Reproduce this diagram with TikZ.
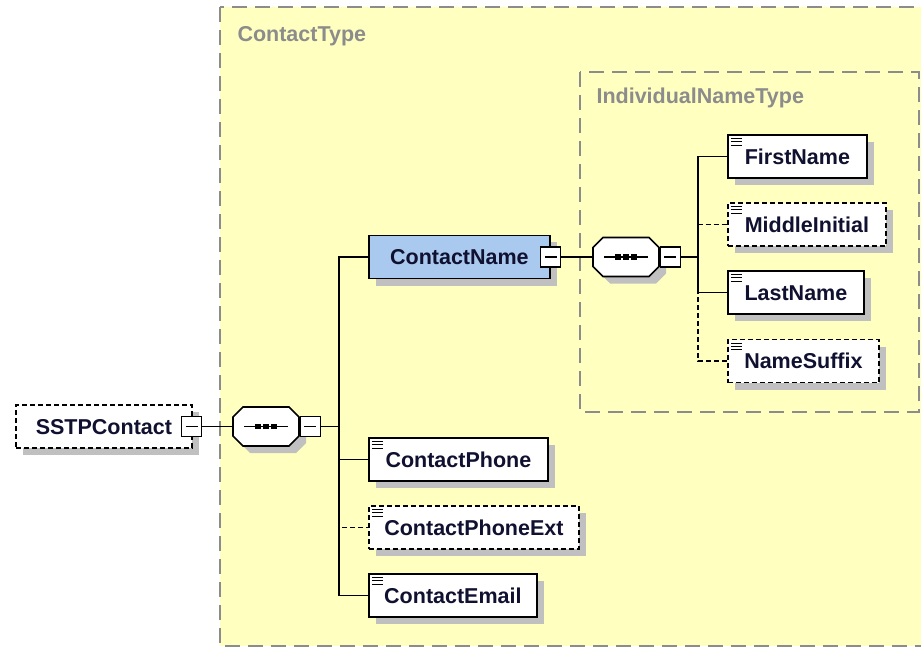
\documentclass[tikz,border=0pt]{standalone}
\usepackage{fontspec}
\setmainfont{Liberation Sans}
\usetikzlibrary{positioning,shapes.misc,shadows}
\definecolor{typeyellow}{RGB}{255,255,192}
\definecolor{typegray}{RGB}{140,140,140}
\definecolor{shadowgray}{RGB}{192,192,192}
\definecolor{namefill}{RGB}{169,201,238}
\definecolor{elemtext}{RGB}{16,16,48}
\tikzset{
	req/.style={solid},
	opt/.style={dash pattern=on 5pt off 3pt},
	link/.style={line width=1.6pt},
	typebox/.style={draw=typegray, line width=2pt, dash pattern=on 15pt off 8pt, fill=typeyellow},
	typelabel/.style={text=typegray, anchor=base west, font=\bfseries\fontsize{21.5}{24}\selectfont},
	elem/.style={draw, line width=1.8pt, fill=white, anchor=west, minimum height=43pt, inner xsep=0pt,
		text=elemtext, font=\bfseries\fontsize{21.5}{24}\selectfont, text height=15.5pt, text depth=0pt,
		drop shadow={shadow xshift=7pt, shadow yshift=-7pt, opacity=1, fill=shadowgray}},
	leaf/.style={elem, path picture={
		\foreach \k in {0,1,2}{
			\draw[solid, line width=1pt] ([shift={(3pt,-\k*3.3pt-3.5pt)}]path picture bounding box.north west) -- ++(11pt,0pt);
		}}},
	minus/.style={draw, solid, line width=1.3pt, fill=white, minimum size=20pt, inner sep=0pt, path picture={
		\draw[line width=1.3pt] ([xshift=4pt]path picture bounding box.west) -- ([xshift=-4pt]path picture bounding box.east);}},
	seq/.style={shape=chamfered rectangle, chamfered rectangle xsep=5pt, chamfered rectangle ysep=5pt,
		draw, line width=1.6pt, fill=white, inner xsep=28pt, inner ysep=14.5pt,
		drop shadow={shadow xshift=7pt, shadow yshift=-7pt, opacity=1, fill=shadowgray},
		path picture={
		\draw[line width=1.6pt] ([xshift=-22pt]path picture bounding box.center) -- ([xshift=22pt]path picture bounding box.center);
		\foreach \dx in {-8,0,8}{
			\fill[black] ([xshift=\dx*1pt]path picture bounding box.center) +(-2.6pt,-2.6pt) rectangle +(2.6pt,2.6pt);
		}}},
}
\begin{document}
\begin{tikzpicture}[x=1pt,y=-1pt]
	\useasboundingbox (0,0) rectangle (921,647);
	% type boxes
	\draw[typebox] (220,7) rectangle (940,646);
	\node[typelabel] (ctlabel) at (234,41.5) {ContactType};
	\draw[typebox] (580,72) rectangle (919,412);
	\node[typelabel] (inlabel) at (593,104) {IndividualNameType};
	% root element and its sequence
	\node[elem, opt, minimum width=176pt] (sstp) at (15,426.5) {SSTPContact};
	\node[minus] (sstpm) at ([xshift=-1pt]sstp.east) {};
	\node[seq] (seq1) at (266,426.5) {};
	\node[minus, right=0pt of seq1] (seq1m) {};
	\coordinate (bus1) at (339,426.5);
	\draw[link] (sstpm) -- (seq1);
	\draw[link] (seq1m) -- (bus1);
	% ContactName and its sequence
	\node[elem, fill=namefill, minimum width=181pt] (cname) at (368,257) {ContactName};
	\node[minus] (cnamem) at (cname.east) {};
	\node[seq] (seq2) at (626,257) {};
	\node[minus, right=0pt of seq2] (seq2m) {};
	\coordinate (bus2) at (698,257);
	\draw[link] (bus1) |- (cname);
	\draw[link] (cnamem) -- (seq2);
	\draw[link] (seq2m) -- (bus2);
	% children of ContactType
	\foreach \n/\t/\y/\w/\s in {cphone/ContactPhone/459.5/179/req, cext/ContactPhoneExt/527.5/210/opt, cemail/ContactEmail/595.5/168/req}{
		\node[leaf, \s, minimum width=\w pt] (\n) at (368,\y) {\t};
		\draw[link, \s] (bus1) |- (\n);
	}
	% children of IndividualNameType
	\foreach \n/\t/\y/\w/\s in {first/FirstName/156.5/139/req, middle/MiddleInitial/224.5/158/opt, last/LastName/292.5/136/req, suffix/NameSuffix/361/151/opt}{
		\node[leaf, \s, minimum width=\w pt] (\n) at (727,\y) {\t};
		\draw[link, \s] (bus2) |- (\n);
	}
\end{tikzpicture}
\end{document}
